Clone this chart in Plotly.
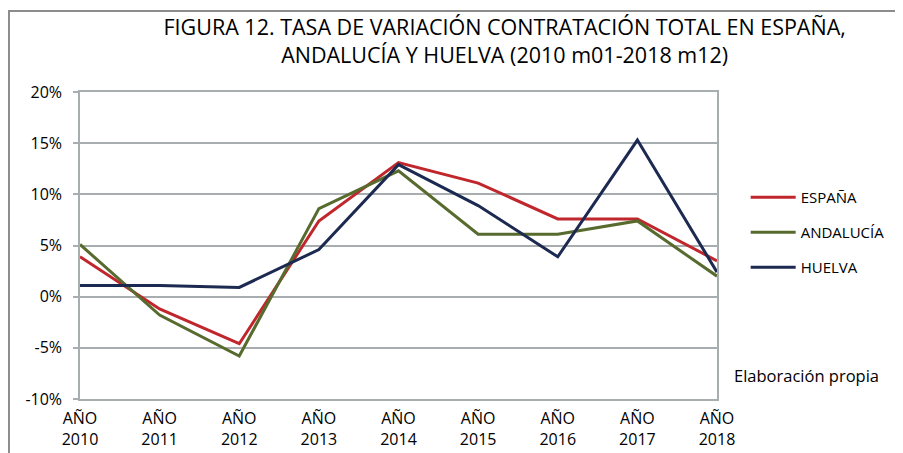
import plotly.graph_objects as go

years = ["AÑO<br>2010", "AÑO<br>2011", "AÑO<br>2012", "AÑO<br>2013", "AÑO<br>2014",
         "AÑO<br>2015", "AÑO<br>2016", "AÑO<br>2017", "AÑO<br>2018"]
espana = [3.9, -1.2, -4.6, 7.4, 13.1, 11.1, 7.6, 7.6, 3.5]
andalucia = [5.1, -1.8, -5.8, 8.6, 12.3, 6.1, 6.1, 7.4, 2.0]
huelva = [1.1, 1.1, 0.9, 4.6, 12.9, 8.9, 3.9, 15.3, 2.4]
yticks = [-10, -5, 0, 5, 10, 15, 20]
ytick_text = ["-10%", "-5%", "0%", "5%", "10%", "15%", "20%"]

FONT = "Open Sans"
GRID = "#A8ADAF"
fig = go.Figure()
idx = list(range(len(years)))
for name, vals, col in [("ESPAÑA", espana, "#C0272D"),
                        ("ANDALUCÍA", andalucia, "#576B2E"),
                        ("HUELVA", huelva, "#1C2951")]:
    fig.add_trace(go.Scatter(x=idx, y=vals, mode="lines", name=name, legendgroup=name,
                             line=dict(color=col, width=3)))

fig.update_layout(
    width=903, height=453,
    margin=dict(l=72, r=194, t=84, b=62),
    paper_bgcolor="white", plot_bgcolor="white",
    font=dict(family=FONT, color="#000000", size=15),
    title=dict(text="FIGURA 12. TASA DE VARIACIÓN CONTRATACIÓN TOTAL EN ESPAÑA,<br>ANDALUCÍA Y HUELVA (2010 m01-2018 m12)",
               x=0.55, xanchor="center", y=0.94, yanchor="top",
               font=dict(family=FONT, size=21.5, color="#000000")),
    showlegend=True,
    legend=dict(x=1.045, y=0.71, xanchor="left", yanchor="top",
                font=dict(family=FONT, size=15), itemwidth=45,
                tracegroupgap=12.5, bgcolor="rgba(0,0,0,0)"),
    xaxis=dict(tickmode="array", tickvals=idx, ticktext=years, range=[0, 8],
               showgrid=False, showline=True, linecolor=GRID, mirror=True,
               linewidth=1.5, ticks="", tickfont=dict(size=16), zeroline=False,
               ticklabelstandoff=4),
    yaxis=dict(tickmode="array", tickvals=yticks, ticktext=ytick_text, range=[-10, 20],
               showgrid=True, gridcolor=GRID, gridwidth=1.5,
               showline=True, linecolor=GRID, mirror=True, linewidth=1.5,
               ticks="outside", ticklen=5, tickcolor=GRID, tickwidth=1.5,
               ticklabelstandoff=8,
               tickfont=dict(size=16), zeroline=False),
)
fig.add_shape(type="rect", xref="paper", yref="paper",
              x0=-0.1115, x1=1.35, y0=-0.3, y1=1.264,
              line=dict(color="#8C8C8C", width=2), fillcolor="rgba(0,0,0,0)")
fig.add_annotation(text="Elaboración propia", xref="paper", yref="paper",
                   x=1.024, y=0.078, xanchor="left", yanchor="middle", showarrow=False,
                   font=dict(family=FONT, size=16.5, color="#000000"))
fig.write_html("out.html")
